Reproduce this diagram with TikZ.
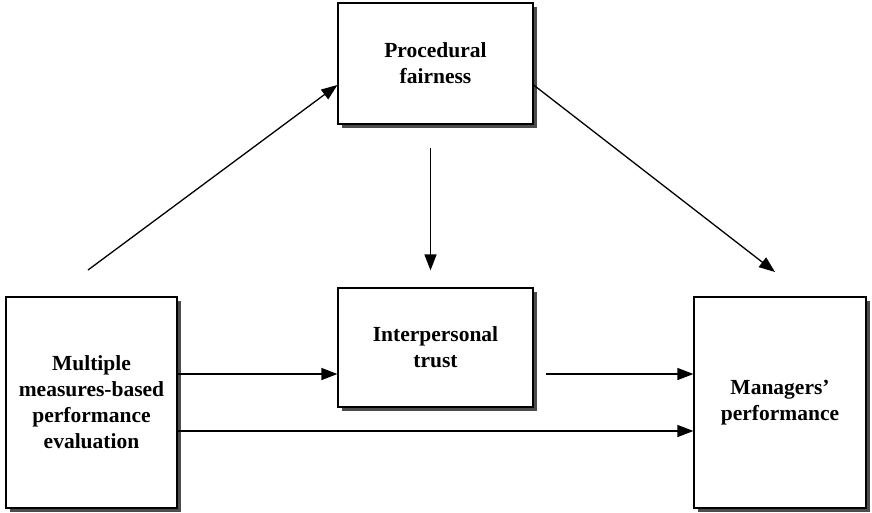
\documentclass[tikz,border=0pt]{standalone}
\usepackage{fontspec}
\setmainfont{Liberation Serif}
\usepackage{tikz}
\usetikzlibrary{arrows.meta,shadows}

\tikzset{
  var/.style={draw, line width=1.2pt, fill=white, align=center,
    font=\bfseries\fontsize{21.5}{26}\selectfont, inner sep=0pt,
    drop shadow={shadow xshift=3.5pt, shadow yshift=-3.5pt, fill=black!70, opacity=1}},
  arr/.style={line width=1.3pt, -{Triangle[length=16pt,width=12pt]}}
}

\begin{document}
\begin{tikzpicture}[x=1pt,y=-1pt]
        \useasboundingbox (0,0) rectangle (872,512);
        % boxes
        \node[var, minimum width=195pt, minimum height=121pt] (pf) at (435.5,63.5) {Procedural\\fairness};
        \node[var, minimum width=195pt, minimum height=119pt] (it) at (435.5,347.5) {Interpersonal\\trust};
        \node[var, minimum width=171pt, minimum height=211pt] (mm) at (91.5,402.5) {Multiple\\measures-based\\performance\\evaluation};
        \node[var, minimum width=172pt, minimum height=211pt] (mp) at (780,402.5) {Managers'\\performance};
        % free ends and rows
        \coordinate (s1) at (88,270);
        \coordinate (t1) at (775,272);
        \coordinate (r1) at (0,374);
        \coordinate (r2) at (0,431);
        % arrows
        \draw[arr] (s1) -- ([yshift=-21.5pt]pf.west);
        \draw[arr] ([yshift=-21.5pt]pf.east) -- (t1);
        \draw[arr, shorten <=23pt, shorten >=17pt] ([xshift=-5pt]pf.south) -- ([xshift=-5pt]it.north);
        \draw[arr] (mm.east |- r1) -- (it.west |- r1);
        \draw[arr, shorten <=12pt] (it.east |- r1) -- (mp.west |- r1);
        \draw[arr] (mm.east |- r2) -- (mp.west |- r2);
    \end{tikzpicture}
\end{document}
